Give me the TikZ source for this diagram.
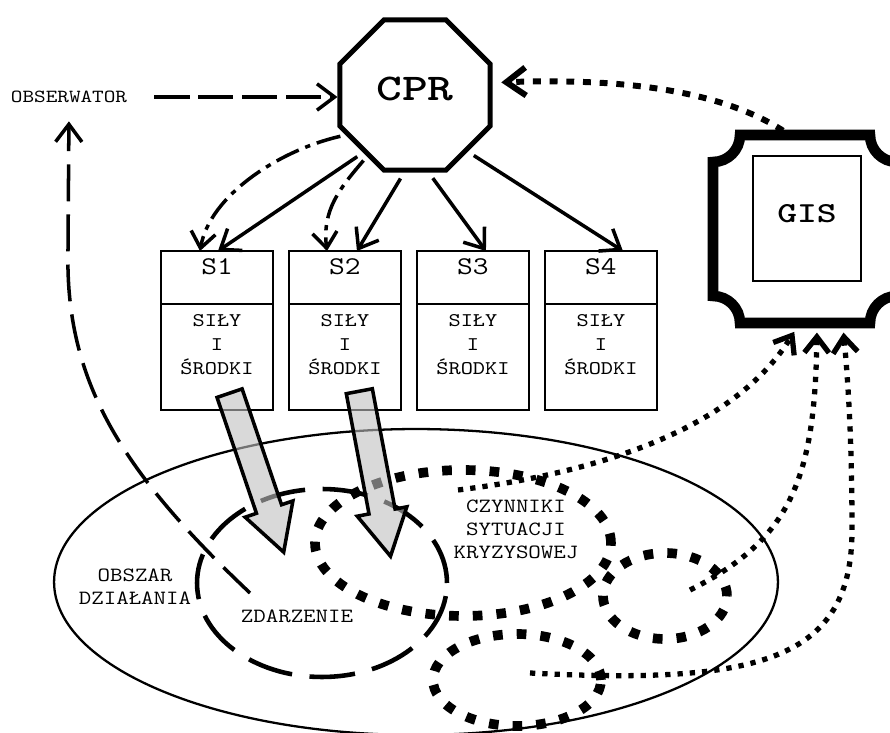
\documentclass[tikz,border=0pt]{standalone}
\usepackage{fontspec}
\newfontfamily\cour[FakeStretch=1.2]{Latin Modern Mono}
\newfontfamily\courbf[FakeStretch=1.3]{lmmonolt10-bold.otf}
\usetikzlibrary{shapes.geometric,shapes.arrows,arrows.meta,positioning,calc}

\begin{document}
\begin{tikzpicture}[
    x=0.02cm, y=-0.02cm,
    cprbox/.style={regular polygon, regular polygon sides=8, draw, line width=2.8pt,
                   minimum size=3.25cm, inner sep=0pt,
                   font=\courbf\fontsize{21.5}{24}\selectfont, text height=16pt, text depth=10.3pt},
    gisbox/.style={rectangle, draw, line width=1.2pt, minimum width=2.16cm, minimum height=2.5cm,
                   inner sep=0pt, font=\courbf\fontsize{16.5}{18}\selectfont,
                   text height=12pt, text depth=6.9pt},
    gisframe/.style={rectangle, minimum width=3.88cm, minimum height=3.92cm, inner sep=0pt},
    headbox/.style={rectangle, draw, line width=1.1pt, outer sep=0pt, inner sep=0pt,
                    minimum width=2.24cm, minimum height=1.06cm,
                    font=\cour\fontsize{14.5}{16}\selectfont, text height=11pt, text depth=13.85pt},
    bodybox/.style={rectangle, draw, line width=1.1pt, outer sep=0pt, inner sep=0pt,
                    minimum width=2.24cm, minimum height=2.12cm},
    bodytext/.style={inner sep=0pt, align=center, font=\cour\fontsize{11}{13.6}\selectfont},
    areatext/.style={inner sep=0pt, align=center, font=\cour\fontsize{11.5}{13}\selectfont},
    obstext/.style={font=\cour\fontsize{10.5}{12}\selectfont},
    area/.style={ellipse, draw, line width=1.3pt, inner sep=0pt},
    event/.style={ellipse, draw, line width=2.6pt, dash pattern=on 26pt off 10pt, inner sep=0pt},
    factor/.style={ellipse, draw, line width=5.5pt, dash pattern=on 5.5pt off 8pt, inner sep=0pt},
    blockarrow/.style={single arrow, draw, line width=2pt, fill=black!25, fill opacity=0.6,
                       minimum height=3.36cm, inner xsep=0pt, inner ysep=0.23cm,
                       single arrow head extend=0.24cm, single arrow tip angle=58},
    arrow/.style={-{Straight Barb[length=10pt, width=15pt]}, line width=2pt, shorten <=4pt},
    ctrlarrow/.style={-{Straight Barb[length=9pt, width=14pt]}, line width=2pt,
                      dash pattern=on 14pt off 4pt on 3pt off 4pt, shorten <=3pt},
    dasharrow/.style={-{Straight Barb[length=10pt, width=15pt]}, line width=2pt,
                      dash pattern=on 20pt off 5pt},
    obsline/.style={-{Straight Barb[length=10pt, width=15pt]}, line width=2pt,
                    dash pattern=on 21pt off 7.5pt},
    gisarrow/.style={-{Straight Barb[length=9pt, width=14pt]}, line width=3pt,
                     dash pattern=on 3pt off 4pt}
]
\useasboundingbox (0,0) rectangle (890,733);

% area of operation, incident and crisis factors
\node[area, minimum width=14.48cm, minimum height=6.12cm] (obszar) at (416,582) {};
\node[event, minimum width=5cm, minimum height=3.76cm] (zdarz) at (322,583) {};
\node[factor, minimum width=5.92cm, minimum height=2.92cm] (czyn) at (463,543) {};
\node[factor, minimum width=2.48cm, minimum height=1.72cm] (czyn2) at (665,596) {};
\node[factor, minimum width=3.36cm, minimum height=1.84cm] (czyn3) at (517,680) {};

\node[areatext] (obszartxt) at (135,586.5) {OBSZAR\\DZIAŁANIA};
\node[areatext] (zdarztxt) at (297,616) {ZDARZENIE};
\node[areatext] (czyntxt) at (516,529) {CZYNNIKI\\SYTUACJI\\KRYZYSOWEJ};

% centre and observer
\node[cprbox] (cpr) at (415,95) {CPR};
\node[obstext] (obs) at (69,97) {OBSERWATOR};

% forces and means
\node[headbox] (s1) at (217,277.5) {S1};
\node[headbox, right=0.32cm of s1] (s2) {S2};
\node[headbox, right=0.32cm of s2] (s3) {S3};
\node[headbox, right=0.32cm of s3] (s4) {S4};
\node[bodybox, below=0pt of s1] (f1) {};
\node[bodybox, below=0pt of s2] (f2) {};
\node[bodybox, below=0pt of s3] (f3) {};
\node[bodybox, below=0pt of s4] (f4) {};
\node[bodytext, below=0.2cm of f1.north] (t1) {SIŁY\\I\\ŚRODKI};
\node[bodytext, below=0.2cm of f2.north] (t2) {SIŁY\\I\\ŚRODKI};
\node[bodytext, below=0.2cm of f3.north] (t3) {SIŁY\\I\\ŚRODKI};
\node[bodytext, below=0.2cm of f4.north] (t4) {SIŁY\\I\\ŚRODKI};

% GIS
\node[gisframe] (gisf) at (805,229) {};
\draw[line width=6pt] (740,135) -- (870,135) arc[start angle=180, end angle=90, radius=27]
    -- (897,296) arc[start angle=270, end angle=180, radius=27]
    -- (740,323) arc[start angle=0, end angle=-90, radius=27]
    -- (713,162) arc[start angle=90, end angle=0, radius=27] -- cycle;
\node[gisbox] (gis) at (807,218.5) {GIS};

% deployment
\node[blockarrow, rotate=-71.2, anchor=tail] (a1) at (229,391.5) {};
\node[blockarrow, rotate=-79.3, anchor=tail] (a2) at (359,389.5) {};

% connectors
\draw[dasharrow, shorten <=12pt] (obs.east) -- (obs.east -| cpr.west);
\coordinate (zdstart) at (250,593);
\draw[obsline, shorten >=7pt] (zdstart) .. controls (120,470) and (65,380) .. (68,250) -- (obs.south);

\draw[arrow] (cpr.228) -- ([xshift=0.02cm]s1.north);
\draw[arrow] (cpr.262) -- ([xshift=0.24cm]s2.north);
\draw[arrow] (cpr.280) -- ([xshift=0.26cm]s3.north);
\draw[arrow] (cpr.313) -- ([xshift=0.44cm]s4.north);
\draw[ctrlarrow] (cpr.210) .. controls (280,150) and (210,195) .. ([xshift=-0.34cm]s1.north);
\draw[ctrlarrow] (cpr.232) .. controls (340,188) and (322,210) .. ([xshift=-0.36cm]s2.north);

\draw[gisarrow, line width=3.4pt, dash pattern=on 4.5pt off 5pt, shorten >=5pt,
      -{Straight Barb[length=11pt, width=16pt]}]
    ([xshift=-0.44cm]gisf.north) .. controls (720,90) and (620,78) .. (cpr.9);
\coordinate (c1) at (458,490);
\coordinate (c2) at (690,590);
\coordinate (c3) at (530,673);
\draw[gisarrow, shorten >=3pt] (c1) .. controls (620,470) and (740,420) .. ([xshift=-0.16cm]gisf.south);
\draw[gisarrow, shorten >=3pt] (c2) .. controls (790,540) and (815,480) .. ([xshift=0.24cm]gisf.south);
\draw[gisarrow, shorten >=3pt] (c3) .. controls (760,685) and (852,660) .. (852,530)
    .. controls (852,440) and (848,380) .. ([xshift=0.76cm]gisf.south);

\end{tikzpicture}
\end{document}
